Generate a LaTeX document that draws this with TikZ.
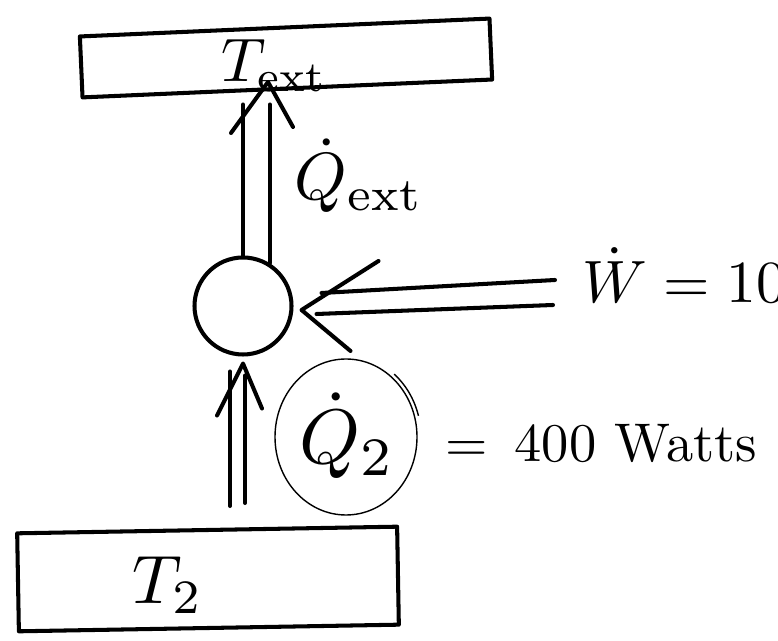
\documentclass[tikz,border=0pt]{standalone}
\usepackage{amsmath, amssymb}
\usetikzlibrary{positioning, shapes.geometric}

\begin{document}
\begin{tikzpicture}[
    pen/.style={line width=2.3pt, line cap=round, line join=round},
    thinpen/.style={line width=0.8pt},
    lbl/.style={anchor=base west, inner sep=0pt},
  ]
      \useasboundingbox (0,0) rectangle (15.56,12.82);

      % reservoirs and the pump
      \node[pen, draw, rotate=2.5, minimum width=8.2cm, minimum height=1.22cm] (ext) at (5.72,11.66) {};
      \node[pen, draw, rotate=1, minimum width=7.6cm, minimum height=1.96cm] (t2) at (4.16,1.24) {};
      \node[pen, draw, circle, minimum size=1.94cm] (pump) at (4.86,6.7) {};

      \node[lbl, scale=3.5] (extlbl) at (4.4,11.18) {$T_{\mathrm{ext}}$};
      \node[lbl, scale=3.9] (t2lbl) at (2.62,0.76) {$T_2$};

      % heat out to T_ext: double shaft, open head
      \coordinate (outFoot) at (pump.north |- ext.south);
      \coordinate (outTip) at ([shift={(0.5,0.17)}]outFoot);
      \draw[pen, shorten >=2.8mm] (pump.north) -- (outFoot);
      \draw[pen, shorten >=2.8mm] (pump.58) -- (pump.58 |- ext.south);
      \draw[pen] ([shift={(-0.74,-1.02)}]outTip) -- (outTip) -- ([shift={(0.5,-0.9)}]outTip);
      \node[lbl, scale=3.8] (qextlbl) at (5.86,8.82) {$\dot Q_{\mathrm{ext}}$};

      % work in from the right
      \coordinate (wTip) at ([shift={(0.16,-0.08)}]pump.east);
      \coordinate (wIn) at (11.1,6.97);
      \draw[pen] ([yshift=2.5mm]wIn) -- ([shift={(0.4,0.34)}]wTip);
      \draw[pen] ([shift={(-0.04,-0.25)}]wIn) -- ([shift={(0.3,-0.08)}]wTip);
      \draw[pen] ([shift={(1.54,0.98)}]wTip) -- (wTip) -- ([shift={(0.98,-0.82)}]wTip);
      \node[lbl, scale=3.4] (wlbl) at (11.62,6.76) {$\dot W = 100$};

      % heat in from T_2
      \coordinate (inTip) at ([yshift=-1.4mm]pump.south);
      \coordinate (inFoot) at (inTip |- t2.north);
      \draw[pen] ([shift={(-0.26,0.44)}]inFoot) -- ([shift={(-0.26,-0.16)}]inTip);
      \draw[pen] ([shift={(0.04,0.5)}]inFoot) -- ([shift={(0.04,-0.24)}]inTip);
      \draw[pen] ([shift={(-0.52,-1.04)}]inTip) -- (inTip) -- ([shift={(0.38,-0.9)}]inTip);

      % ringed Q2
      \node[thinpen, draw, ellipse, minimum width=2.84cm, minimum height=3.12cm] (q2ring) at (6.92,4.08) {};
      \draw[thinpen] (q2ring.center) ++(50:1.5 and 1.64) arc[start angle=50, end angle=15, x radius=1.5cm, y radius=1.64cm];
      \node[lbl, scale=4.4] (q2lbl) at (5.96,3.54) {$\dot Q_2$};
      \node[lbl, scale=3.1] (q2val) at (8.88,3.58) {$=$\enspace 400 Watts};
    \end{tikzpicture}
\end{document}
